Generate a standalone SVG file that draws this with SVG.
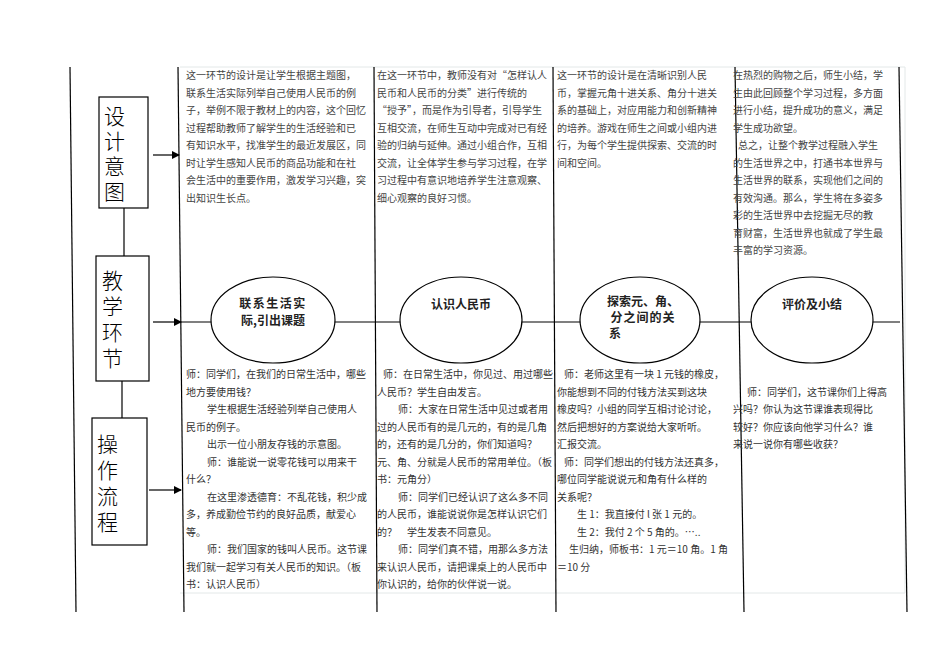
<svg xmlns="http://www.w3.org/2000/svg" width="950" height="672" viewBox="0 0 950 672">
<style>
.t{font-family:"Noto Sans CJK SC",sans-serif;font-size:10px;fill:#444}
.b{font-family:"Noto Sans CJK SC",sans-serif;font-size:21px;font-weight:300;fill:#000}
.e{font-family:"Noto Sans CJK SC",sans-serif;font-size:12px;font-weight:bold;fill:#222}
.ln{stroke:#000;stroke-width:1.2;fill:none}
.box{fill:#fff;stroke:#000;stroke-width:1.2}
</style>
<defs><marker id="a" markerWidth="8" markerHeight="8" refX="7" refY="4" orient="auto" markerUnits="userSpaceOnUse"><path d="M0,0L8,4L0,8z" fill="#000"/></marker></defs>
<rect width="950" height="672" fill="#fff"/>
<path d="M180,67H905M180,593H905M905,67V593" fill="none" stroke="#e3e8e8"/>
<g id="connectors">
<line class="ln" x1="70" y1="67" x2="76" y2="612"/>
<line class="ln" x1="178" y1="67" x2="184" y2="612"/>
<line class="ln" x1="374" y1="67" x2="377" y2="612"/>
<line class="ln" x1="553" y1="67" x2="556" y2="612"/>
<line class="ln" x1="735" y1="67" x2="744" y2="612"/>
<line class="ln" x1="899" y1="67" x2="907" y2="612"/>
<line class="ln" x1="124" y1="208" x2="124" y2="256"/>
<line class="ln" x1="122" y1="381" x2="122" y2="418"/>
<line class="ln" x1="153" y1="155" x2="179" y2="155" marker-end="url(#a)"/>
<line class="ln" x1="153" y1="322" x2="181" y2="322" marker-end="url(#a)"/>
<line class="ln" x1="149" y1="490" x2="181" y2="490" marker-end="url(#a)"/>
<line class="ln" x1="181" y1="322" x2="900" y2="322"/>
</g>
<g id="n1"><rect class="box" x="99" y="97" width="49" height="111"/><text class="b" x="104" y="124">设</text><text class="b" x="104" y="149">计</text><text class="b" x="104" y="174">意</text><text class="b" x="104" y="199">图</text></g>
<g id="n2"><rect class="box" x="96" y="256" width="53" height="125"/><text class="b" x="102" y="288">教</text><text class="b" x="102" y="314">学</text><text class="b" x="102" y="340">环</text><text class="b" x="102" y="366">节</text></g>
<g id="n3"><rect class="box" x="92" y="418" width="55" height="127"/><text class="b" x="97" y="452">操</text><text class="b" x="97" y="478">作</text><text class="b" x="97" y="504">流</text><text class="b" x="97" y="530">程</text></g>
<g id="e1"><ellipse cx="273" cy="320" rx="62" ry="43" fill="#fff" stroke="#000" stroke-width="1.2"/><text class="e" x="273" y="308" text-anchor="middle" letter-spacing="1.5">联系生活实</text><text class="e" x="273" y="325" text-anchor="middle">际,引出课题</text></g>
<g id="e2"><ellipse cx="461" cy="320" rx="61" ry="43" fill="#fff" stroke="#000" stroke-width="1.2"/><text class="e" x="461" y="309" text-anchor="middle">认识人民币</text></g>
<g id="e3"><ellipse cx="640" cy="320" rx="60" ry="43" fill="#fff" stroke="#000" stroke-width="1.2"/><text class="e" x="643" y="306" text-anchor="middle">探索元、角、</text><text class="e" x="643" y="322" text-anchor="middle" letter-spacing="1">分之间的关</text><text class="e" x="609" y="338">系</text></g>
<g id="e4"><ellipse cx="812" cy="320" rx="61" ry="43" fill="#fff" stroke="#000" stroke-width="1.2"/><text class="e" x="812" y="309" text-anchor="middle">评价及小结</text></g>
<g class="t">
<text x="186" y="79">这一环节的设计是让学生根据主题图，</text>
<text x="186" y="96.5">联系生活实际列举自己使用人民币的例</text>
<text x="186" y="114">子，举例不限于教材上的内容，这个回忆</text>
<text x="186" y="131.5">过程帮助教师了解学生的生活经验和已</text>
<text x="186" y="149">有知识水平，找准学生的最近发展区，同</text>
<text x="186" y="166.5">时让学生感知人民币的商品功能和在社</text>
<text x="186" y="184">会生活中的重要作用，激发学习兴趣，突</text>
<text x="186" y="201.5">出知识生长点。</text>
<text x="377" y="79">在这一环节中，教师没有对“怎样认人</text>
<text x="377" y="96.5">民币和人民币的分类”进行传统的</text>
<text x="377" y="114">“授予”，而是作为引导者，引导学生</text>
<text x="377" y="131.5">互相交流，在师生互动中完成对已有经</text>
<text x="377" y="149">验的归纳与延伸。通过小组合作，互相</text>
<text x="377" y="166.5">交流，让全体学生参与学习过程，在学</text>
<text x="377" y="184">习过程中有意识地培养学生注意观察、</text>
<text x="377" y="201.5">细心观察的良好习惯。</text>
<text x="557" y="79">这一环节的设计是在清晰识别人民</text>
<text x="557" y="96.5">币，掌握元角十进关系、角分十进关</text>
<text x="557" y="114">系的基础上，对应用能力和创新精神</text>
<text x="557" y="131.5">的培养。游戏在师生之间或小组内进</text>
<text x="557" y="149">行，为每个学生提供探索、交流的时</text>
<text x="557" y="166.5">间和空间。</text>
<text x="733" y="79">在热烈的购物之后，师生小结，学</text>
<text x="733" y="96.5">生由此回顾整个学习过程，多方面</text>
<text x="733" y="114">进行小结，提升成功的意义，满足</text>
<text x="733" y="131.5">学生成功欲望。</text>
<text x="738" y="149">总之，让整个教学过程融入学生</text>
<text x="733" y="166.5">的生活世界之中，打通书本世界与</text>
<text x="733" y="184">生活世界的联系，实现他们之间的</text>
<text x="733" y="201.5">有效沟通。那么，学生将在多姿多</text>
<text x="733" y="219">彩的生活世界中去挖掘无尽的教</text>
<text x="733" y="236.5">育财富，生活世界也就成了学生最</text>
<text x="733" y="254">丰富的学习资源。</text>
</g>
<g class="t" style="fill:#333">
<text x="186" y="378">师：同学们，在我们的日常生活中，哪些</text>
<text x="186" y="395.5">地方要使用钱？</text>
<text x="207" y="413">学生根据生活经验列举自己使用人</text>
<text x="186" y="430.5">民币的例子。</text>
<text x="207" y="448">出示一位小朋友存钱的示意图。</text>
<text x="207" y="465.5">师：谁能说一说零花钱可以用来干</text>
<text x="186" y="483">什么？</text>
<text x="207" y="500.5">在这里渗透德育：不乱花钱，积少成</text>
<text x="186" y="518">多，养成勤俭节约的良好品质，献爱心</text>
<text x="186" y="535.5">等。</text>
<text x="207" y="553">师：我们国家的钱叫人民币。这节课</text>
<text x="186" y="570.5">我们就一起学习有关人民币的知识。（板</text>
<text x="186" y="588">书：认识人民币）</text>
<text x="383" y="378">师：在日常生活中，你见过、用过哪些</text>
<text x="377" y="395.5">人民币？学生自由发言。</text>
<text x="398" y="413">师：大家在日常生活中见过或者用</text>
<text x="377" y="430.5">过的人民币有的是几元的，有的是几角</text>
<text x="377" y="448">的，还有的是几分的，你们知道吗？</text>
<text x="377" y="465.5">元、角、分就是人民币的常用单位。（板</text>
<text x="377" y="483">书：元角分）</text>
<text x="398" y="500.5">师：同学们已经认识了这么多不同</text>
<text x="377" y="518">的人民币，谁能说说你是怎样认识它们</text>
<text x="377" y="535.5">的？　学生发表不同意见。</text>
<text x="398" y="553">师：同学们真不错，用那么多方法</text>
<text x="377" y="570.5">来认识人民币，请把课桌上的人民币中</text>
<text x="377" y="588">你认识的，给你的伙伴说一说。</text>
<text x="564" y="378">师：老师这里有一块 1 元钱的橡皮，</text>
<text x="557" y="395.5">你能想到不同的付钱方法买到这块</text>
<text x="557" y="413">橡皮吗？小组的同学互相讨论讨论，</text>
<text x="557" y="430.5">然后把想好的方案说给大家听听。</text>
<text x="557" y="448">汇报交流。</text>
<text x="564" y="465.5">师：同学们想出的付钱方法还真多，</text>
<text x="557" y="483">哪位同学能说说元和角有什么样的</text>
<text x="557" y="500.5">关系呢？</text>
<text x="577" y="518">生 1：我直接付 l 张 1 元的。</text>
<text x="577" y="535.5">生 2：我付 2 个 5 角的。…..</text>
<text x="569" y="553">生归纳，师板书：1 元＝10 角。1 角</text>
<text x="557" y="570.5">＝10 分</text>
<text x="747" y="395.5">师：同学们，这节课你们上得高</text>
<text x="733" y="413">兴吗？你认为这节课谁表现得比</text>
<text x="733" y="430.5">较好？你应该向他学习什么？谁</text>
<text x="733" y="448">来说一说你有哪些收获？</text>
</g>
</svg>
